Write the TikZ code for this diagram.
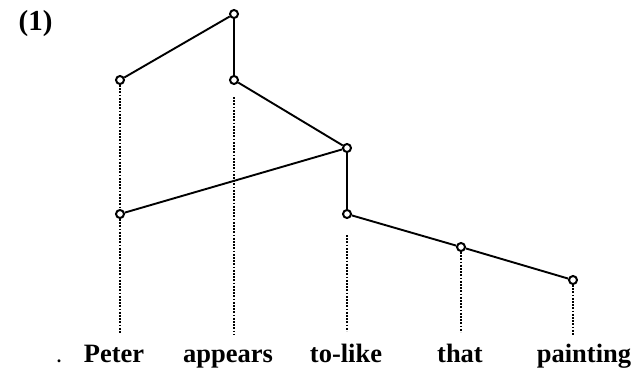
\documentclass[tikz,border=0pt]{standalone}
\usepackage{fontspec}
\setmainfont{Liberation Serif}
\begin{document}
\begin{tikzpicture}[x=1pt,y=-1pt,
  vtx/.style={circle,draw,line width=2pt,inner sep=0pt,minimum size=8pt,fill=white},
  edge/.style={line width=1.9pt},
  dots/.style={line width=2.2pt,dash pattern=on 1.8pt off 1.4pt},
  word/.style={font=\fontsize{26.5}{28}\selectfont\bfseries,anchor=base,inner sep=0pt}]
\useasboundingbox (0,0) rectangle (634,369);
\node[font=\fontsize{29}{30}\selectfont\bfseries,anchor=base,inner sep=0pt] (lab) at (35.5,31) {(1)};
% vertices
\node[vtx] (t)  at (234,14) {};
\node[vtx] (a)  at (120,80) {};
\node[vtx] (b)  at (234,80) {};
\node[vtx] (c)  at (347,148) {};
\node[vtx] (d)  at (120,214) {};
\node[vtx] (e)  at (347,214) {};
\node[vtx] (f)  at (461,247) {};
\node[vtx] (g)  at (573,280) {};
% words
\node[font=\fontsize{18}{20}\selectfont\bfseries,anchor=base,inner sep=0pt] (dot) at (59,362) {.};
\node[word] (w1) at (114,362) {Peter};
\node[word] (w2) at (228,362) {appears};
\node[word] (w3) at (346,362) {to-like};
\node[word] (w4) at (460,362) {that};
\node[word] (w5) at (584,362) {painting};
% end points of projection lines
\coordinate (p1) at (120,334);
\coordinate (p2) at (234,335);
\coordinate (p3) at (347,331);
\coordinate (p4) at (461,332);
\coordinate (p5) at (573,335);
\coordinate (s2) at (234,97);
\coordinate (s3) at (347,235);
% edges
\draw[edge] (t) -- (a);
\draw[edge] (t) -- (b);
\draw[edge] (b) -- (c);
\draw[edge] (c) -- (d);
\draw[edge] (c) -- (e);
\draw[edge] (e) -- (f);
\draw[edge] (f) -- (g);
% projections
\draw[dots] (a) -- (d);
\draw[dots] (d) -- (p1);
\draw[dots] (s2) -- (p2);
\draw[dots] (s3) -- (p3);
\draw[dots] (f) -- (p4);
\draw[dots] (g) -- (p5);
\end{tikzpicture}
\end{document}
